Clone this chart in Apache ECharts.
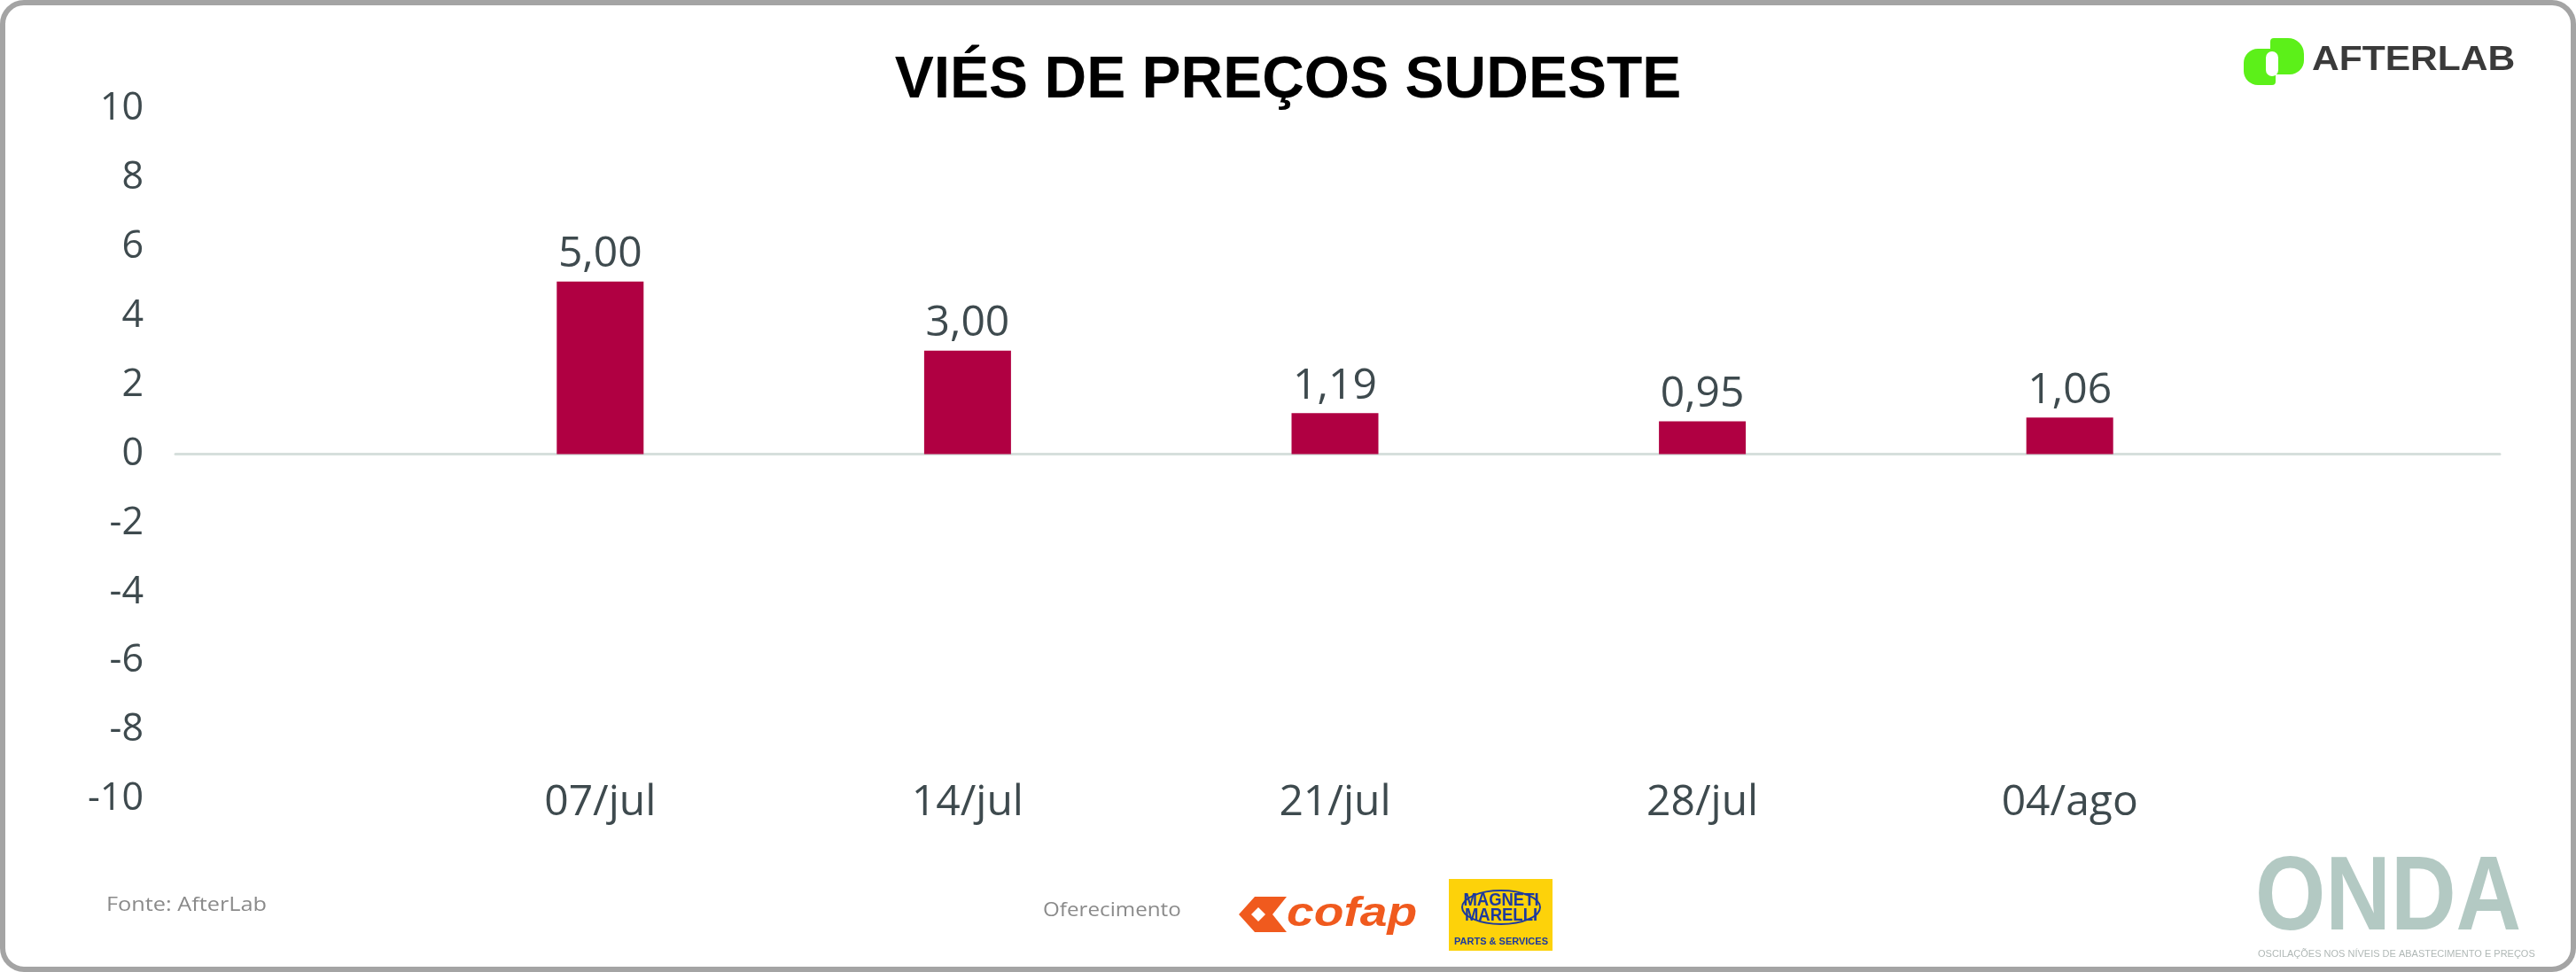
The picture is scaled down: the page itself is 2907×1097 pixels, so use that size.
<!DOCTYPE html>
<html><head><meta charset="utf-8">
<script src="https://cdn.jsdelivr.net/npm/echarts@6/dist/echarts.min.js"></script>
<style>html,body{margin:0;padding:0;background:#fff}#c{width:2907px;height:1097px}</style>
</head><body><div id="c"></div>
<script>
// ---- data ----
const titleText = 'VIÉS DE PREÇOS SUDESTE';
const categories = ['07/jul', '14/jul', '21/jul', '28/jul', '04/ago'];
const values = [5.00, 3.00, 1.19, 0.95, 1.06];
const yTickLabels = [-10, -8, -6, -4, -2, 0, 2, 4, 6, 8, 10];
const sourceText = 'Fonte: AfterLab';
const sponsorText = 'Oferecimento';

const yMin = yTickLabels[0], yMax = yTickLabels[yTickLabels.length - 1];
const yStep = yTickLabels[1] - yTickLabels[0];
const txt = '#3e4a4e';
const font = 'Open Sans';

const chart = echarts.init(document.getElementById('c'), null, {renderer: 'canvas'});
chart.setOption({
  backgroundColor: '#ffffff',
  animation: false,
  title: {
    text: titleText, left: 'center', top: 54,
    textStyle: {fontFamily: 'Liberation Sans', fontWeight: 'bold', fontSize: 66, color: '#000000', lineHeight: 66}
  },
  grid: [
    {left: 470, right: 364, top: 123, bottom: 195, containLabel: false},
    {left: 198, right: 86, top: 123, bottom: 195, containLabel: false}
  ],
  xAxis: [
    {
      gridIndex: 0, type: 'category', data: categories,
      axisLine: {show: false, onZero: false}, axisTick: {show: false},
      axisLabel: {fontFamily: font, fontSize: 48, color: txt, margin: 4, verticalAlign: 'middle'}
    },
    {
      gridIndex: 1, type: 'category', data: [''],
      axisLine: {show: true, onZero: true, lineStyle: {color: '#d6dfdc', width: 3}},
      axisTick: {show: false}, axisLabel: {show: false}
    }
  ],
  yAxis: [
    {
      gridIndex: 0, type: 'value', min: yMin, max: yMax, interval: yStep,
      axisLine: {show: false}, axisTick: {show: false}, splitLine: {show: false},
      axisLabel: {fontFamily: font, fontSize: 43, color: txt, margin: 308, align: 'right'}
    },
    {gridIndex: 1, type: 'value', min: yMin, max: yMax, show: false, splitLine: {show: false}}
  ],
  series: [{
    type: 'bar', xAxisIndex: 0, yAxisIndex: 0, data: values, barWidth: 98,
    itemStyle: {color: '#b00042'},
    label: {
      show: true, position: 'top', distance: 6,
      fontFamily: font, fontSize: 48, color: txt,
      formatter: p => p.value.toFixed(2).replace('.', ',')
    }
  }],
  graphic: [
    // frame
    {type: 'rect', shape: {x: 3, y: 3, width: 2901, height: 1091, r: 24},
     style: {fill: 'none', stroke: '#a4a4a4', lineWidth: 6}, silent: true, z: 100},
    // AfterLab logo
    {type: 'rect', shape: {x: 2532, y: 55, width: 36, height: 41, r: [16, 0, 4, 16]}, style: {fill: '#5cf019'}},
    {type: 'rect', shape: {x: 2562, y: 43, width: 38, height: 41, r: [4, 18, 16, 0]}, style: {fill: '#5cf019'}},
    {type: 'rect', shape: {x: 2557, y: 58, width: 14, height: 28, r: 7}, style: {fill: '#ffffff'}},
    {type: 'text', x: 2609, y: 69, style: {text: 'AFTERLAB', fontFamily: 'Liberation Sans', fontWeight: 'bold',
      fontSize: 38, fill: '#3a3a3a', textAlign: 'left', textVerticalAlign: 'middle'}, scaleX: 1.12},
    // source
    {type: 'text', x: 120, y: 1022, style: {text: sourceText, fontFamily: font, fontSize: 22, fill: '#8a8a8a',
      textAlign: 'left', textVerticalAlign: 'middle'}, scaleX: 1.15},
    {type: 'text', x: 1177, y: 1028, style: {text: sponsorText, fontFamily: font, fontSize: 22, fill: '#8a8a8a',
      textAlign: 'left', textVerticalAlign: 'middle'}, scaleX: 1.1},
    // cofap logo
    {type: 'polygon', shape: {points: [[1416, 1012], [1452, 1012], [1436, 1032], [1452, 1052], [1416, 1052], [1398, 1032]]},
     style: {fill: '#f05a1e'}},
    {type: 'polygon', shape: {points: [[1420, 1024], [1428, 1032], [1420, 1040], [1412, 1032]]}, style: {fill: '#ffffff'}},
    {type: 'text', x: 1452, y: 1032, style: {text: 'cofap', fontFamily: 'Liberation Sans', fontWeight: 'bold', fontStyle: 'italic',
      fontSize: 46, fill: '#f05a1e', textAlign: 'left', textVerticalAlign: 'middle'}, scaleX: 1.2},
    // Magneti Marelli logo
    {type: 'rect', shape: {x: 1635, y: 992, width: 117, height: 81}, style: {fill: '#fdd20a'}},
    {type: 'ellipse', shape: {cx: 1694, cy: 1024, rx: 44, ry: 19}, style: {fill: 'none', stroke: '#1d3a9e', lineWidth: 2}},
    {type: 'text', x: 1694, y: 1016, style: {text: 'MAGNETI', fontFamily: 'Liberation Sans', fontWeight: 'bold',
      fontSize: 21, fill: '#1d3a9e', textAlign: 'center', textVerticalAlign: 'middle'}, scaleX: 0.88},
    {type: 'text', x: 1694, y: 1033, style: {text: 'MARELLI', fontFamily: 'Liberation Sans', fontWeight: 'bold',
      fontSize: 21, fill: '#1d3a9e', textAlign: 'center', textVerticalAlign: 'middle'}, scaleX: 0.88},
    {type: 'text', x: 1694, y: 1063, style: {text: 'PARTS & SERVICES', fontFamily: 'Liberation Sans', fontWeight: 'bold',
      fontSize: 11, fill: '#1d3a9e', textAlign: 'center', textVerticalAlign: 'middle'}},
    // ONDA logo
    {type: 'text', x: 2545, y: 1016, style: {text: 'ONDA', fontFamily: 'Liberation Sans', fontWeight: 'bold',
      fontSize: 119, fill: '#b3c9c3', textAlign: 'left', textVerticalAlign: 'middle'}, scaleX: 0.857},
    {type: 'text', x: 2548, y: 1077, style: {text: 'OSCILAÇÕES NOS NÍVEIS DE ABASTECIMENTO E PREÇOS', fontFamily: 'Liberation Sans',
      fontSize: 10, fill: '#b0b8b6', textAlign: 'left', textVerticalAlign: 'middle'}, scaleX: 1.1}
  ]
});
</script>
</body></html>
